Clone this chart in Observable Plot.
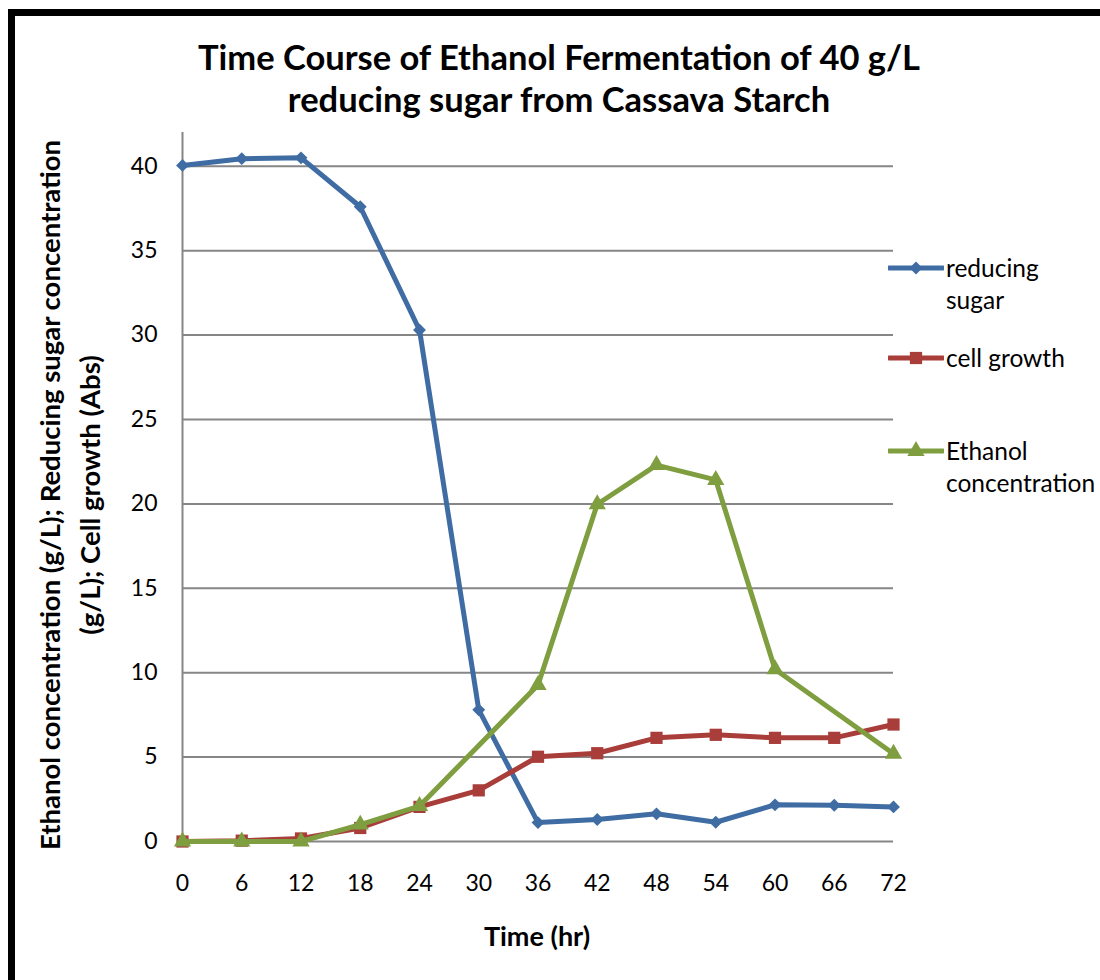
<!DOCTYPE html>
<html><head><meta charset="utf-8">
<script src="https://cdn.jsdelivr.net/npm/d3@7"></script>
<script src="https://cdn.jsdelivr.net/npm/@observablehq/plot@0.6"></script>
<style>
body{margin:0;background:#fff;font-family:Lato,"Open Sans",sans-serif;color:#000;}
#wrap{position:relative;width:1100px;height:980px;overflow:hidden;}
#title{height:125px;box-sizing:border-box;padding-top:36px;padding-left:18px;text-align:center;font-weight:bold;font-size:34.5px;line-height:42px;}
#frame{position:absolute;left:8px;top:9px;width:1200px;height:1200px;border:7px solid #000;pointer-events:none;}
#ylabel{position:absolute;width:800px;height:80px;left:-330px;top:455px;transform:rotate(-90deg);text-align:center;font-weight:bold;font-size:27.5px;line-height:40px;white-space:nowrap;}
#xlabel{position:absolute;left:417px;width:240px;top:919px;text-align:center;font-weight:bold;font-size:27px;line-height:34px;}
.leg{position:absolute;left:888px;font-size:24.5px;line-height:32px;white-space:nowrap;}
.leg svg{position:absolute;left:0;top:0;}
.leg span{display:block;margin-left:58px;}
</style>
</head><body>
<div id="wrap">
  <div id="title">Time Course of Ethanol Fermentation of 40 g/L<br>reducing sugar from Cassava Starch</div>
  <div id="chart"></div>
  <div id="ylabel">Ethanol concentration (g/L); Reducing sugar concentration<br>(g/L); Cell growth (Abs)</div>
  <div id="xlabel">Time (hr)</div>
  <div id="legend"></div>
  <div id="frame"></div>
</div>
<script>
const times = [0, 6, 12, 18, 24, 30, 36, 42, 48, 54, 60, 66, 72];
const reducingSugar = [40.05, 40.45, 40.5, 37.6, 30.3, 7.8, 1.12, 1.3, 1.64, 1.14, 2.17, 2.15, 2.05];
const cellGrowth = [0, 0.05, 0.18, 0.8, 2.05, 3.03, 5.02, 5.23, 6.14, 6.32, 6.14, 6.14, 6.93];
const ethanol = [0, 0, 0, 1.0, 2.1, null, 9.27, 19.98, 22.3, 21.42, 10.2, null, 5.2];
const yTicks = [0, 5, 10, 15, 20, 25, 30, 35, 40];
const seriesNames = ["reducing sugar", "cell growth", "Ethanol concentration"];
const seriesColors = ["#3f6ca3", "#a93d3a", "#7f9e40"];
const seriesSymbols = ["diamond", "square", "triangle"];

const seriesValues = [reducingSugar, cellGrowth, ethanol];
const series = seriesNames.map((name, i) => ({
  name, color: seriesColors[i], symbol: seriesSymbols[i],
  data: times.map((t, j) => ({time: t, value: seriesValues[i][j]})).filter(d => d.value != null)
}));

const symbolMap = {diamond: d3.symbolDiamond2, square: d3.symbolSquare, triangle: d3.symbolTriangle};
const symbolR = {diamond: 5.8, square: 6.9, triangle: 6.4};

const marks = [
  Plot.ruleY(yTicks, {stroke: "#868686", strokeWidth: 2}),
  Plot.ruleX([0], {stroke: "#868686", strokeWidth: 2}),
  Plot.axisY(yTicks, {tickSize: 0, tickPadding: 25, fontSize: 23, label: null}),
  Plot.axisX(times, {tickSize: 0, tickPadding: 33, fontSize: 23, label: null})
];
for (const s of series) {
  marks.push(Plot.line(s.data, {x: "time", y: "value", stroke: s.color, strokeWidth: 5, strokeLinejoin: "round"}));
  marks.push(Plot.dot(s.data, {x: "time", y: "value", fill: s.color, stroke: "none", symbol: symbolMap[s.symbol], r: symbolR[s.symbol]}));
}

const chart = Plot.plot({
  width: 1100,
  height: 855,
  marginLeft: 182,
  marginRight: 207,
  marginTop: 7,
  marginBottom: 139,
  style: {fontFamily: "Lato, 'Open Sans', sans-serif", fontSize: "23px", color: "#000", background: "#fff"},
  x: {domain: [0, 72]},
  y: {domain: [0, 42]},
  marks
});
document.getElementById("chart").appendChild(chart);

// Legend
const legendTops = [252, 342, 435];
const legendLines = [["reducing", "sugar"], ["cell growth"], ["Ethanol", "concentration"]];
const legend = document.getElementById("legend");
series.forEach((s, i) => {
  const div = document.createElement("div");
  div.className = "leg";
  div.style.top = legendTops[i] + "px";
  const svg = d3.create("svg").attr("width", 56).attr("height", 32);
  svg.append("line").attr("x1", 1).attr("x2", 55).attr("y1", 16).attr("y2", 16)
    .attr("stroke", s.color).attr("stroke-width", 5).attr("stroke-linecap", "round");
  svg.append("path").attr("transform", "translate(28,16)")
    .attr("d", d3.symbol(symbolMap[s.symbol], Math.PI * symbolR[s.symbol] ** 2)())
    .attr("fill", s.color);
  div.appendChild(svg.node());
  legendLines[i].forEach(t => {
    const sp = document.createElement("span");
    sp.textContent = t;
    div.appendChild(sp);
  });
  legend.appendChild(div);
});
</script>
</body></html>
